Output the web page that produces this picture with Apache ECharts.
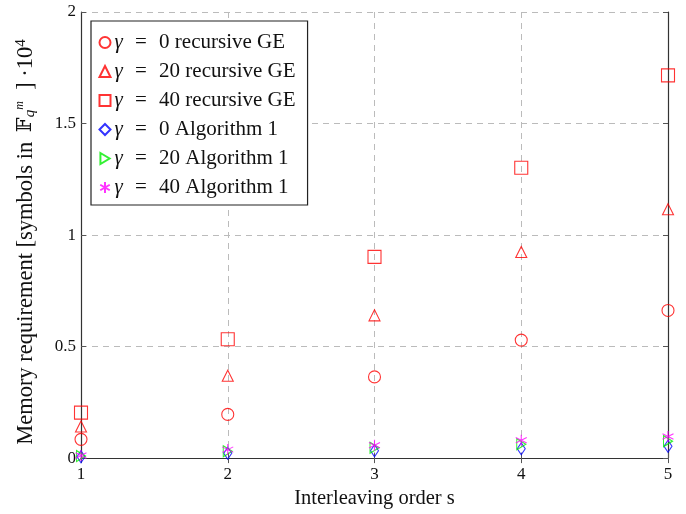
<!DOCTYPE html>
<html><head><meta charset="utf-8">
<script src="https://cdn.jsdelivr.net/npm/echarts@6/dist/echarts.min.js"></script>
<style>html,body{margin:0;padding:0;background:#fff}#c{width:686px;height:514px}</style>
</head><body><div id="c"></div>
<script>
const orders = [1, 2, 3, 4, 5];
const ge0 = [0.084, 0.196, 0.364, 0.529, 0.662];
const ge20 = [0.142, 0.369, 0.64, 0.924, 1.116];
const ge40 = [0.204, 0.533, 0.902, 1.302, 1.716];
const alg0 = [0.006, 0.022, 0.033, 0.042, 0.053];
const alg20 = [0.009, 0.031, 0.046, 0.062, 0.076];
const alg40 = [0.012, 0.038, 0.058, 0.08, 0.097];
const yTicks = ['0', '0.5', '1', '1.5', '2'];
const names = ['γ = 0 recursive GE', 'γ = 20 recursive GE', 'γ = 40 recursive GE',
  'γ = 0 Algorithm 1', 'γ = 20 Algorithm 1', 'γ = 40 Algorithm 1'];

const FONT = '"Liberation Serif", "DejaVu Serif", serif';
const pairs = (ys) => orders.map((x, i) => [x, ys[i]]);
function mk(name, ys, symbol, size, color) {
  return {
    name, type: 'scatter', data: pairs(ys), symbol, symbolSize: size,
    itemStyle: { color: 'none', borderColor: color, borderWidth: 1.1 },
    emphasis: { disabled: true }, z: 3
  };
}
const star = 'path://M0,-10 L0,10 M-8.66,-5 L8.66,5 M-8.66,5 L8.66,-5';
const rtri = 'path://M0,0 L10,6 L0,12 Z';
const series = [
  mk(names[0], ge0, 'circle', 12, '#ff0000'),
  mk(names[1], ge20, 'triangle', 11, '#ff0000'),
  mk(names[2], ge40, 'rect', 13, '#ff0000'),
  mk(names[3], alg0, 'diamond', [8, 12], '#0000ff'),
  mk(names[4], alg20, rtri, [9, 11], '#00ee00'),
  mk(names[5], alg40, star, 11, '#ff00ff')
];

const chart = echarts.init(document.getElementById('c'));
const axisLine = { show: true, lineStyle: { color: '#333', width: 1.2 } };
const tick = { show: true, inside: true, length: 5, lineStyle: { color: '#555' } };
chart.setOption({
  animation: false,
  backgroundColor: '#fff',
  textStyle: { fontFamily: FONT },
  grid: { left: 81, right: 18, top: 12, bottom: 52, show: false },
  legend: {
    left: 91, top: 21, orient: 'vertical',
    backgroundColor: '#fff', borderColor: '#222', borderWidth: 1.2,
    padding: [11, 12, 7, 6], itemGap: 8, itemWidth: 11, itemHeight: 11,
    data: names,
    formatter: (n) => '{g|γ} {e|=} ' + n.slice(4),
    textStyle: {
      fontFamily: FONT, fontSize: 21, color: '#111', padding: [0, 0, 0, -1],
      rich: {
        g: { fontFamily: FONT, fontStyle: 'italic', fontSize: 21, color: '#111' },
        e: { fontFamily: FONT, fontSize: 21, color: '#111', padding: [0, 7, 0, 7] }
      }
    }
  },
  xAxis: [{
    type: 'value', min: 1, max: 5, interval: 1, position: 'bottom',
    name: 'Interleaving order s', nameLocation: 'middle', nameGap: 25,
    nameTextStyle: { fontFamily: FONT, fontSize: 20.5, color: '#111' },
    axisLine, axisTick: tick,
    axisLabel: { fontFamily: FONT, fontSize: 17, color: '#111', margin: 8 },
    splitLine: { show: true, lineStyle: { color: '#bbb', type: [6, 5], width: 1 } }
  }, {
    type: 'value', min: 1, max: 5, interval: 1, position: 'top',
    axisLine, axisTick: tick, axisLabel: { show: false }, splitLine: { show: false }
  }],
  yAxis: [{
    type: 'value', min: 0, max: 2, interval: 0.5, position: 'left',
    name: '{n|Memory requirement [symbols in }{F|𝔽}{sub|q}{sup2|m}{n|  ] ·10}{sup|4}',
    nameLocation: 'middle', nameGap: 43,
    nameTextStyle: {
      fontFamily: FONT, fontSize: 22.5, color: '#111', padding: [0, 14, 0, 0],
      rich: {
        n: { fontFamily: FONT, fontSize: 22.5, color: '#111' },
        F: { fontFamily: '"DejaVu Serif", serif', fontSize: 21, color: '#111', padding: [0, 0, 0, 4] },
        sub: { fontFamily: FONT, fontStyle: 'italic', fontSize: 15, color: '#111', verticalAlign: 'bottom', padding: [9, 0, 0, 0] },
        sup2: { fontFamily: FONT, fontStyle: 'italic', fontSize: 12, color: '#111', verticalAlign: 'top', padding: [0, 0, 2, 0] },
        sup: { fontFamily: FONT, fontSize: 15, color: '#111', verticalAlign: 'top' }
      }
    },
    axisLine, axisTick: tick,
    axisLabel: { fontFamily: FONT, fontSize: 17, color: '#111', margin: 5,
      formatter: (v) => yTicks[Math.round(v * 2)] },
    splitLine: { show: true, lineStyle: { color: '#bbb', type: [6, 5], width: 1 } }
  }, {
    type: 'value', min: 0, max: 2, interval: 0.5, position: 'right',
    axisLine, axisTick: tick, axisLabel: { show: false }, splitLine: { show: false }
  }],
  series
});
</script></body></html>
